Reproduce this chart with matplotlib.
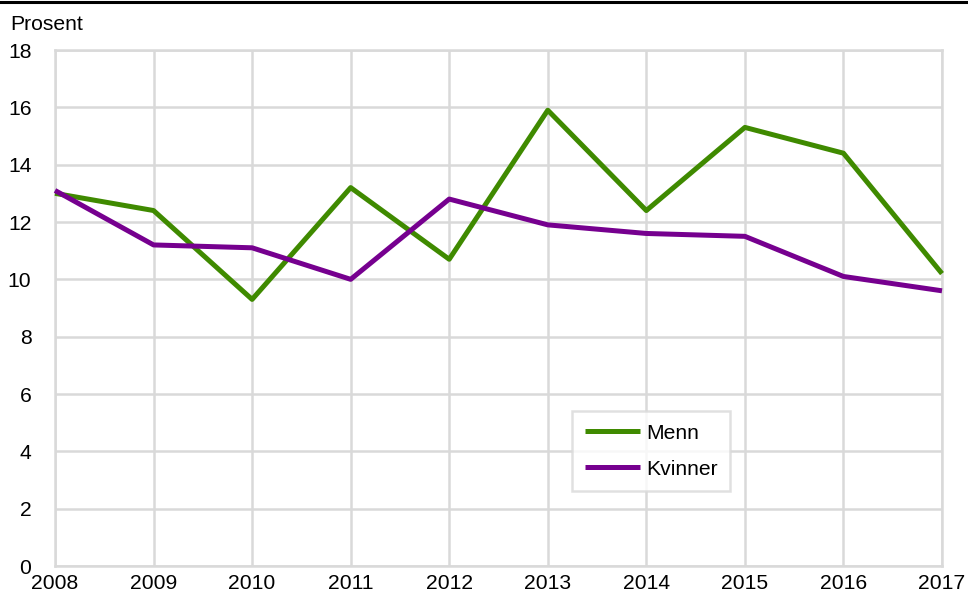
import matplotlib
matplotlib.use("Agg")
import matplotlib.pyplot as plt
from matplotlib.lines import Line2D

years = [2008, 2009, 2010, 2011, 2012, 2013, 2014, 2015, 2016, 2017]
menn = [13.0, 12.4, 9.3, 13.2, 10.7, 15.9, 12.4, 15.3, 14.4, 10.2]
kvinner = [13.1, 11.2, 11.1, 10.0, 12.8, 11.9, 11.6, 11.5, 10.1, 9.6]
yticks = [0, 2, 4, 6, 8, 10, 12, 14, 16, 18]

plt.rcParams['font.family'] = ['Liberation Sans', 'DejaVu Sans']
fs = 15.2

fig = plt.figure(figsize=(9.68, 5.92), dpi=100)
ax = fig.add_axes([55/968, 1-566/592, (942-55)/968, (566-50)/592])

grid_c = '#d9d9d9'
ax.plot(years, menn, color='#3f8a00', lw=3.6, label='Menn', solid_capstyle='butt', zorder=3, clip_on=False)
ax.plot(years, kvinner, color='#76008f', lw=3.6, label='Kvinner', solid_capstyle='butt', zorder=3, clip_on=False)

ax.set_xlim(2008, 2017)
ax.set_ylim(0, 18)
ax.set_xticks(years)
ax.set_yticks(yticks)
ax.grid(True, color=grid_c, lw=1.8)
ax.set_axisbelow(True)
for s in ax.spines.values():
    s.set_color(grid_c)
    s.set_linewidth(1.8)
ax.tick_params(length=0, labelsize=fs, colors='black')
ax.tick_params(axis='x', pad=6)
ax.tick_params(axis='y', pad=17)

fig.text(10/968, 1-24/592, 'Prosent', fontsize=fs, va='center', ha='left')
fig.add_artist(Line2D([0, 1], [1-1.5/592, 1-1.5/592], color='black', lw=2.2, transform=fig.transFigure))

leg = ax.legend(loc='upper left', bbox_to_anchor=((572-55)/887, (566-411)/516), frameon=True,
                fancybox=False, fontsize=fs, handlelength=2.6, handletextpad=0.3,
                borderpad=0.6, labelspacing=0.8, borderaxespad=0)
leg.get_frame().set_edgecolor(grid_c)
leg.get_frame().set_linewidth(1.8)

fig.savefig('out.png', dpi=100)
